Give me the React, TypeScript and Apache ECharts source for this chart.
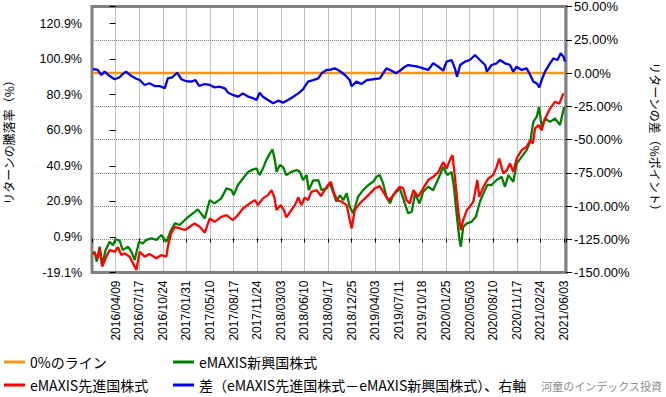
import React, { useEffect, useRef } from 'react';
import * as echarts from 'echarts';

// x values: days counted from 2016/04/09 (first tick label)
const BASE_DATE = Date.UTC(2016, 3, 9);
const X_MIN = -99;
const X_MAX = 1889;
const X_STEP = 99;
const X_LAST_TICK = 1881;

const LEFT_MIN = -19.1;
const LEFT_MAX = 130.5;
const LEFT_STEP = 20;
const RIGHT_MIN = -150;
const RIGHT_MAX = 50;
const RIGHT_STEP = 25;

const seriesNames = [
  '0%のライン',
  'eMAXIS先進国株式',
  'eMAXIS新興国株式',
  '差（eMAXIS先進国株式－eMAXIS新興国株式）、右軸',
];

const zeroLinePoints: [number, number][] = [[-95, 0], [1885, 0]];

const redPoints: [number, number][] = [
  [-95, -8], [-88, -8.3], [-75, -11.1], [-67, -5.5], [-56, -15.8], [-39, -10.2], [-25, -6.5], [-4, -7.4],
  [10, -4.9], [24, -9.3], [37, -8.3], [59, -10.2], [80, -15.8], [87, -17.7], [101, -7.4], [122, -10.2],
  [142, -8.7], [171, -11.1], [192, -9.3], [213, -10.2], [219, -4.6], [233, 2.9], [248, 6.6], [269, 5.7],
  [290, 4.8], [311, 6.6], [331, 8.5], [353, 6.6], [374, 3.3], [395, 11.3], [415, 9.4], [443, 12.2],
  [465, 13.2], [492, 10.4], [513, 13.2], [534, 16.9], [563, 19.8], [584, 21.6], [597, 18.8], [618, 22.6],
  [639, 24.4], [654, 27.2], [665, 23.5], [675, 16.0], [693, 18.8], [706, 16.0], [716, 11.9], [737, 16.0],
  [752, 18.8], [766, 23.1], [780, 18.8], [793, 23.1], [807, 21.6], [821, 26.3], [843, 27.2], [861, 23.9],
  [885, 29.1], [903, 31.9], [916, 25.4], [930, 21.6], [948, 20.7], [969, 18.8], [982, 10.4], [990, 5.7],
  [1003, 16.0], [1024, 19.8], [1046, 22.6], [1067, 25.4], [1087, 28.2], [1108, 29.5], [1126, 25.4], [1144, 21.6],
  [1158, 23.1], [1179, 27.2], [1192, 29.1], [1206, 28.2], [1220, 21.6], [1234, 19.8], [1249, 27.2], [1269, 23.5],
  [1290, 28.2], [1311, 32.9], [1332, 34.7], [1354, 37.5], [1374, 43.1], [1388, 39.4], [1402, 44.1], [1413, 46.9],
  [1420, 38.5], [1430, 25.4], [1438, 14.2], [1448, 4.8], [1458, 10.4], [1473, 16.0], [1486, 17.9], [1500, 20.7],
  [1517, 32.9], [1525, 23.5], [1543, 29.1], [1563, 33.8], [1584, 35.7], [1598, 40.3], [1609, 45.0], [1626, 36.6],
  [1641, 38.5], [1654, 42.2], [1668, 37.5], [1682, 45.0], [1703, 49.7], [1724, 51.6], [1739, 55.3], [1750, 53.5],
  [1759, 61.9], [1773, 63.8], [1787, 60.9], [1801, 67.5], [1822, 73.1], [1843, 76.9], [1861, 75.9], [1878, 81.6],
];

const greenPoints: [number, number][] = [
  [-95, -9], [-88, -7.4], [-79, -13.0], [-67, -4.6], [-56, -14.9], [-42, -6.5], [-25, -1.8], [-11, -3.7],
  [0, -0.4], [17, -1.2], [30, -6.5], [52, -4.6], [66, -7.4], [80, -12.1], [98, -1.8], [114, -2.7],
  [129, -0.8], [150, 0.1], [171, -0.8], [192, 2.0], [213, -1.8], [233, 4.8], [248, 8.5], [269, 7.6],
  [297, 11.3], [324, 14.2], [345, 16.4], [374, 11.3], [395, 21.6], [415, 19.8], [443, 22.6], [465, 28.2],
  [486, 27.2], [495, 24.4], [513, 30.1], [534, 33.8], [556, 37.5], [577, 38.9], [591, 39.4], [604, 35.7],
  [618, 39.4], [632, 44.1], [647, 47.9], [658, 50.1], [668, 44.1], [675, 37.5], [689, 41.3], [702, 40.3],
  [716, 35.7], [737, 37.5], [759, 38.5], [773, 37.5], [786, 32.9], [801, 35.7], [810, 27.2], [828, 32.5],
  [850, 32.9], [864, 27.2], [885, 28.2], [898, 31.0], [912, 26.3], [926, 20.7], [940, 24.4], [955, 21.6],
  [969, 25.4], [982, 17.9], [996, 14.2], [1017, 23.5], [1038, 27.2], [1060, 30.1], [1080, 31.9], [1094, 34.7],
  [1108, 35.7], [1122, 31.0], [1136, 23.5], [1151, 19.8], [1164, 24.4], [1192, 28.2], [1213, 19.8], [1227, 14.2],
  [1242, 15.1], [1256, 25.4], [1274, 19.8], [1290, 26.3], [1311, 29.1], [1332, 27.2], [1354, 33.8], [1374, 40.3],
  [1391, 35.7], [1409, 37.5], [1419, 29.1], [1430, 14.2], [1442, -0.8], [1448, -4.6], [1458, 6.6], [1473, 8.5],
  [1493, 9.4], [1511, 12.2], [1528, 20.7], [1543, 25.4], [1559, 30.1], [1577, 30.1], [1598, 32.9], [1619, 34.7],
  [1633, 29.1], [1647, 35.7], [1668, 31.9], [1682, 42.2], [1703, 45.9], [1724, 49.7], [1739, 54.4], [1752, 65.6],
  [1766, 68.4], [1776, 74.0], [1787, 62.8], [1801, 67.5], [1822, 65.6], [1843, 67.5], [1864, 63.8], [1881, 74.0],
];

const bluePoints: [number, number][] = [
  [-95, 3], [-88, 2.8], [-75, 2.3], [-60, -1.5], [-46, 1.0], [-25, -2.3], [-4, -4.7], [17, -3.2],
  [30, -0.8], [44, 1.0], [66, -2.3], [87, -4.3], [101, -5.3], [122, -9.0], [142, -7.7], [164, -9.8],
  [185, -9.8], [206, -11.5], [219, -4.0], [238, -3.2], [258, 0.2], [276, -4.7], [297, -6.2], [318, -6.5],
  [335, -5.3], [350, -9.8], [374, -8.3], [395, -9.0], [415, -10.8], [436, -10.3], [458, -11.5], [472, -14.8],
  [492, -16.5], [513, -17.8], [534, -15.3], [556, -17.8], [577, -19.0], [591, -20.3], [604, -14.8], [618, -17.8],
  [639, -20.3], [661, -22.8], [682, -20.8], [702, -22.3], [723, -20.3], [745, -17.8], [766, -15.3], [786, -12.3],
  [807, -6.5], [828, -5.3], [850, -4.0], [864, -0.2], [885, 2.3], [898, 2.3], [919, 3.5], [940, 1.5],
  [962, -1.5], [982, -5.3], [990, -9.8], [1010, -6.5], [1031, -8.3], [1053, -5.3], [1080, -4.7], [1108, -4.0],
  [1122, -0.2], [1136, 3.5], [1158, 1.7], [1176, -0.2], [1192, 1.7], [1213, 4.7], [1227, 6.0], [1249, 5.3],
  [1269, 4.7], [1290, 3.5], [1311, 2.3], [1332, 7.3], [1354, 4.7], [1374, 1.7], [1388, 8.5], [1409, 9.8],
  [1423, 3.5], [1432, -2.8], [1445, 6.0], [1465, 8.5], [1486, 9.8], [1507, 13.5], [1528, 9.8], [1550, 6.0],
  [1557, 1.0], [1577, 6.0], [1598, 7.3], [1612, 9.8], [1633, 7.3], [1654, 6.0], [1668, 1.0], [1682, 4.7],
  [1703, 2.3], [1724, 3.5], [1739, -1.5], [1752, -6.5], [1766, -7.7], [1777, -10.8], [1787, -5.3], [1801, 1.0],
  [1822, 7.3], [1836, 11.0], [1853, 9.8], [1867, 14.8], [1878, 12.3], [1885, 8.5],
];

const LATIN = "'Liberation Sans', 'Noto Sans CJK JP', sans-serif";
const JP = "'Noto Sans CJK JP', sans-serif";

function dayLabel(v: number): string {
  if (v < 0 || v > X_LAST_TICK || Math.round(v) % X_STEP !== 0) return '';
  const d = new Date(BASE_DATE + Math.round(v) * 86400000);
  const mm = String(d.getUTCMonth() + 1).padStart(2, '0');
  const dd = String(d.getUTCDate()).padStart(2, '0');
  return `${d.getUTCFullYear()}/${mm}/${dd}`;
}

function legendItem(name: string, left: number, top: number) {
  return {
    orient: 'horizontal',
    left,
    top,
    itemWidth: 21,
    itemHeight: 3,
    icon: 'rect',
    padding: 0,
    textStyle: { fontSize: 14, fontFamily: JP, color: '#000' },
    data: [name],
  };
}

export default function App() {
  const ref = useRef<HTMLDivElement>(null);
  useEffect(() => {
    if (!ref.current) return;
    const chart = echarts.init(ref.current, null, { renderer: 'svg' });
    const lineSeries = (name: string, data: [number, number][], color: string, yAxisIndex: number, z: number) => ({
      name,
      type: 'line',
      data,
      yAxisIndex,
      showSymbol: false,
      symbol: 'none',
      z,
      lineStyle: { color, width: 2.3 },
      itemStyle: { color },
    });
    chart.setOption({
      animation: false,
      backgroundColor: '#ffffff',
      grid: {
        left: 92,
        right: 100,
        top: 6.5,
        bottom: 124.5,
        show: true,
        borderColor: '#808080',
        borderWidth: 3,
        backgroundColor: 'transparent',
        containLabel: false,
        outerBoundsMode: 'none',
      },
      xAxis: {
        type: 'value',
        min: X_MIN,
        max: X_MAX,
        interval: X_STEP,
        axisLine: { show: false },
        axisTick: { show: true, length: 4, lineStyle: { color: '#000' } },
        splitLine: { show: true, lineStyle: { color: '#808080', type: 'dotted', width: 1 } },
        axisLabel: {
          rotate: 90,
          margin: 8,
          fontSize: 12,
          fontFamily: LATIN,
          color: '#000',
          formatter: dayLabel,
          showMinLabel: true,
          showMaxLabel: true,
        },
      },
      yAxis: [
        {
          type: 'value',
          position: 'left',
          min: LEFT_MIN,
          max: LEFT_MAX,
          interval: LEFT_STEP,
          axisLine: { show: false },
          axisTick: { show: true, length: 6, lineStyle: { color: '#000' } },
          splitLine: { show: false },
          axisLabel: {
            margin: 10,
            fontSize: 12.5,
            fontFamily: LATIN,
            color: '#000',
            formatter: (v: number) => (v > 125 ? '' : v.toFixed(1) + '%'),
          },
        },
        {
          type: 'value',
          position: 'right',
          min: RIGHT_MIN,
          max: RIGHT_MAX,
          interval: RIGHT_STEP,
          axisLine: { show: false },
          axisTick: { show: true, length: 6, lineStyle: { color: '#000' } },
          splitLine: { show: true, lineStyle: { color: '#808080', type: 'dotted', width: 1 } },
          axisLabel: {
            margin: 8,
            fontSize: 13,
            fontFamily: LATIN,
            color: '#000',
            formatter: (v: number) => v.toFixed(2) + '%',
          },
        },
      ],
      legend: [
        legendItem(seriesNames[0], 4, 355),
        legendItem(seriesNames[1], 4, 378),
        legendItem(seriesNames[2], 173, 355),
        legendItem(seriesNames[3], 173, 378),
      ],
      graphic: [
        {
          type: 'text',
          x: 8,
          y: 139.5,
          rotation: Math.PI / 2,
          style: {
            text: 'リターンの騰落率（%）',
            x: 0,
            y: 0,
            textAlign: 'center',
            textVerticalAlign: 'middle',
            font: `12px ${JP}`,
            fill: '#000',
          },
        },
        {
          type: 'text',
          x: 655,
          y: 139.5,
          rotation: -Math.PI / 2,
          style: {
            text: 'リターンの差（%ポイント）',
            x: 0,
            y: 0,
            textAlign: 'center',
            textVerticalAlign: 'middle',
            font: `12px ${JP}`,
            fill: '#000',
          },
        },
        {
          type: 'text',
          x: 662,
          y: 386,
          style: {
            text: '河童のインデックス投資',
            x: 0,
            y: 0,
            textAlign: 'right',
            textVerticalAlign: 'middle',
            font: `11px ${JP}`,
            fill: '#8c8c8c',
          },
        },
      ],
      series: [
        lineSeries(seriesNames[0], zeroLinePoints, '#f0961e', 1, 2),
        lineSeries(seriesNames[2], greenPoints, '#008000', 0, 3),
        lineSeries(seriesNames[1], redPoints, '#ff0000', 0, 4),
        lineSeries(seriesNames[3], bluePoints, '#0000ee', 1, 5),
      ],
    });
    return () => chart.dispose();
  }, []);
  return (
    <div
      ref={ref}
      style={{ position: 'fixed', left: 0, top: 0, width: 666, height: 397, background: '#fff' }}
    />
  );
}
